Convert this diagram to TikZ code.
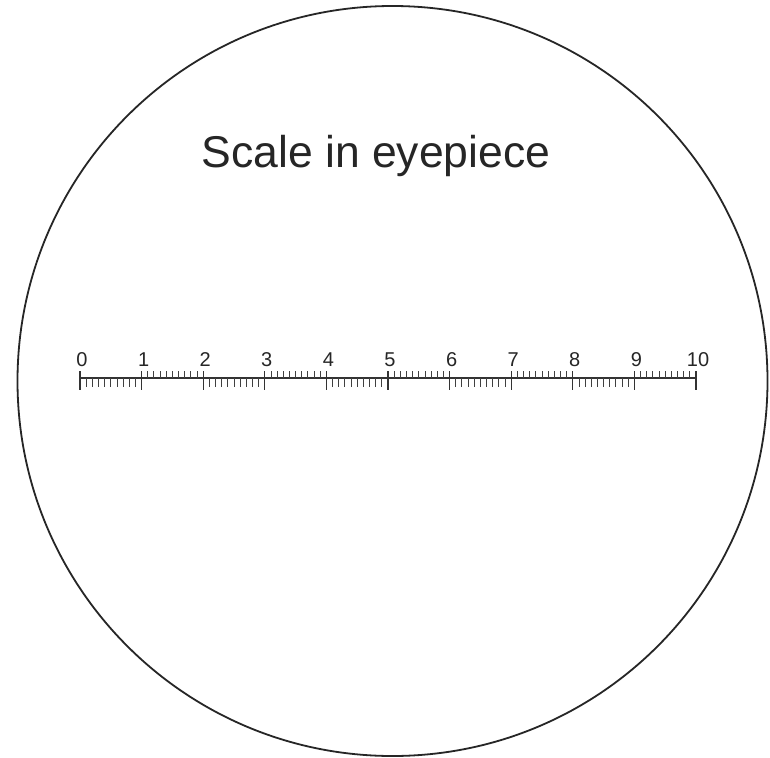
\documentclass[tikz,border=0pt]{standalone}
\usepackage{fontspec}
\setmainfont{Liberation Sans}
\begin{document}
\begin{tikzpicture}[x=1pt,y=-1pt,
  rim/.style={line width=1.8pt, black!85},
  rule/.style={line width=1.3pt, black!80},
  minortick/.style={line width=0.9pt, black!75},
  numlabel/.style={font=\fontsize{20}{24}\selectfont, anchor=base, inner sep=0pt, text=black!85}]
\useasboundingbox (0,0) rectangle (770,757);
\fill[white] (0,0) rectangle (770,757);
\draw[rim] (392.5,381) circle[radius=375];
\node[font=\fontsize{44.5}{50}\selectfont, anchor=base, inner sep=0pt, text=black!85] (title) at (376,167) {Scale in eyepiece};
\coordinate (s0) at (80,378);
\coordinate (s10) at (696,378);
\draw[rule] (s0) -- (s10);
\foreach \i in {0,...,10}{
  \pgfmathsetmacro{\xx}{80+61.6*\i}
  \draw[rule] (\xx,371) -- (\xx,390);
  \node[numlabel] (n\i) at (\xx+2,366) {\i};
}
\foreach \i in {0,...,9}{
  \foreach \j in {1,...,9}{
    \pgfmathsetmacro{\xx}{80+61.6*\i+6.16*\j}
    \ifodd\i
      \draw[minortick] (\xx,378) -- (\xx,371);
    \else
      \draw[minortick] (\xx,378) -- (\xx,387);
    \fi
  }
}
\end{tikzpicture}
\end{document}
